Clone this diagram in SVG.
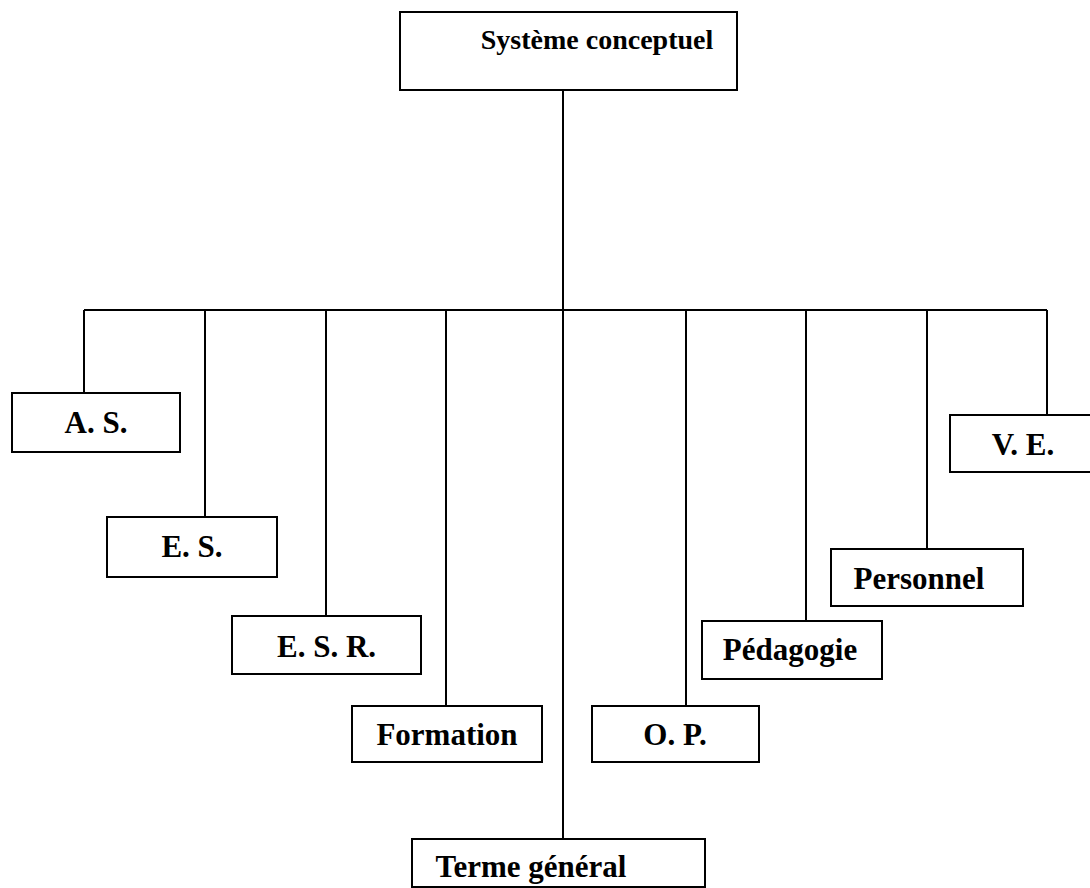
<svg xmlns="http://www.w3.org/2000/svg" width="1090" height="888" viewBox="0 0 1090 888">
  <style>
    .box { fill: #ffffff; stroke: #000000; stroke-width: 2; }
    .link { fill: none; stroke: #000000; stroke-width: 2; }
    .label { font-family: "Liberation Serif", "Times New Roman", serif; font-weight: bold; font-size: 31px; fill: #000000; text-anchor: middle; }
    .title { font-size: 28px; }
  </style>
  <rect width="1090" height="888" fill="#ffffff"/>

  <!-- connectors: trunk, bus and drops -->
  <g id="connectors" class="link">
    <line x1="563" y1="90" x2="563" y2="839"/>
    <line x1="84" y1="310" x2="1047" y2="310"/>
    <line x1="84" y1="310" x2="84" y2="393"/>
    <line x1="205" y1="310" x2="205" y2="517"/>
    <line x1="326" y1="310" x2="326" y2="616"/>
    <line x1="446" y1="310" x2="446" y2="706"/>
    <line x1="686" y1="310" x2="686" y2="706"/>
    <line x1="806" y1="310" x2="806" y2="621"/>
    <line x1="927" y1="310" x2="927" y2="549"/>
    <line x1="1047" y1="310" x2="1047" y2="415"/>
  </g>

  <g id="systeme-conceptuel">
    <rect class="box" x="400" y="12" width="337" height="78"/>
    <text class="label title" x="597" y="49">Système conceptuel</text>
  </g>

  <g id="as">
    <rect class="box" x="12" y="393" width="168" height="59"/>
    <text class="label" x="96" y="433">A. S.</text>
  </g>

  <g id="es">
    <rect class="box" x="107" y="517" width="170" height="60"/>
    <text class="label" x="192" y="557">E. S.</text>
  </g>

  <g id="esr">
    <rect class="box" x="232" y="616" width="189" height="58"/>
    <text class="label" x="326.5" y="657">E. S. R.</text>
  </g>

  <g id="formation">
    <rect class="box" x="352" y="706" width="190" height="56"/>
    <text class="label" x="447" y="745">Formation</text>
  </g>

  <g id="terme-general">
    <rect class="box" x="412" y="839" width="293" height="48"/>
    <text class="label" x="531" y="877">Terme général</text>
  </g>

  <g id="op">
    <rect class="box" x="592" y="706" width="167" height="56"/>
    <text class="label" x="675" y="745">O. P.</text>
  </g>

  <g id="pedagogie">
    <rect class="box" x="702" y="621" width="180" height="58"/>
    <text class="label" x="790" y="660">Pédagogie</text>
  </g>

  <g id="personnel">
    <rect class="box" x="831" y="549" width="192" height="57"/>
    <text class="label" x="919" y="589">Personnel</text>
  </g>

  <g id="ve">
    <rect class="box" x="950" y="415" width="150" height="57"/>
    <text class="label" x="1023" y="455">V. E.</text>
  </g>
</svg>
